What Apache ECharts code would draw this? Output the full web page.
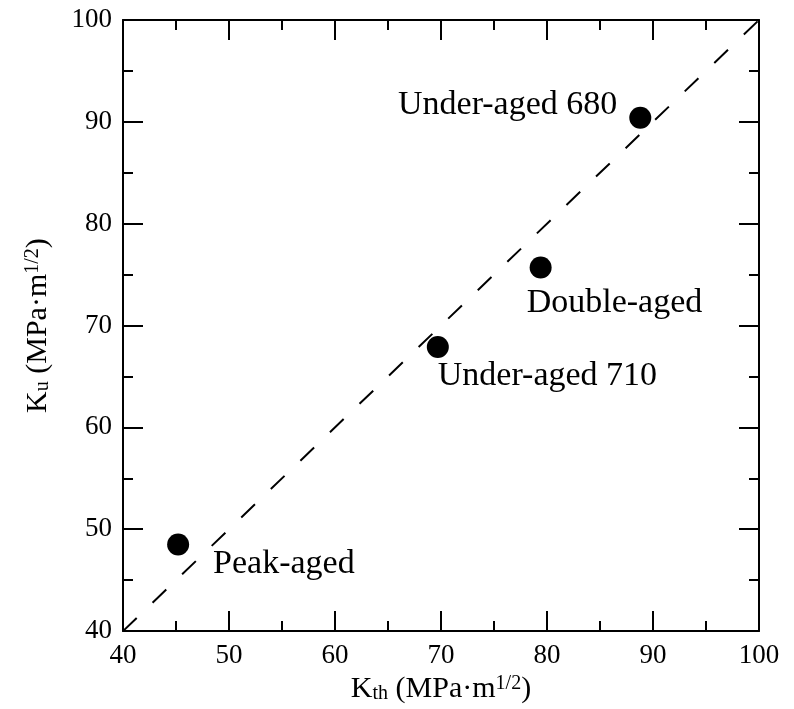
<!DOCTYPE html>
<html>
<head>
<meta charset="utf-8">
<script src="https://cdn.jsdelivr.net/npm/echarts@6/dist/echarts.min.js"></script>
<style>
html,body{margin:0;padding:0;background:#fff;}
#chart{width:794px;height:709px;}
</style>
</head>
<body>
<div id="chart"></div>
<script>
// ---- Data ----
var sampleNames = ['Peak-aged', 'Under-aged 710', 'Double-aged', 'Under-aged 680'];
var kth = [45.2, 69.7, 79.4, 88.8];
var ku = [48.5, 67.9, 75.7, 90.4];
var refLineX = [40, 100];
var refLineY = [40, 100];
var xTicks = [40, 50, 60, 70, 80, 90, 100];
var yTicks = [40, 50, 60, 70, 80, 90, 100];

// ---- Label placement (style only) ----
var labelPlacement = {
  'Peak-aged':      {align: 'left',  offset: [35, 20]},
  'Under-aged 710': {align: 'left',  offset: [0, 29]},
  'Double-aged':    {align: 'left',  offset: [-14, 36]},
  'Under-aged 680': {align: 'right', offset: [-23, -13]}
};

var FONT = '"Liberation Serif", "Times New Roman", serif';
var chart = echarts.init(document.getElementById('chart'));

function axisBase(pos, showLabels, ticks) {
  return {
    type: 'value',
    position: pos,
    min: ticks[0],
    max: ticks[ticks.length - 1],
    interval: ticks[1] - ticks[0],
    axisLine: {show: true, onZero: false, lineStyle: {color: '#000', width: 2}},
    axisTick: {show: true, inside: true, length: 20, lineStyle: {color: '#000', width: 2}},
    minorTick: {show: true, splitNumber: 2, length: 10, lineStyle: {color: '#000', width: 2}},
    splitLine: {show: false},
    minorSplitLine: {show: false},
    axisLabel: {
      show: showLabels,
      color: '#000',
      fontFamily: FONT,
      fontSize: 27,
      margin: 11
    }
  };
}

var richName = {
  b: {fontFamily: FONT, fontSize: 30, color: '#000'},
  sub: {fontFamily: FONT, fontSize: 20, color: '#000', verticalAlign: 'bottom', padding: [10, 0, 0, 0]},
  sup: {fontFamily: FONT, fontSize: 20, color: '#000', verticalAlign: 'top', padding: [0, 0, 10, 0]}
};

var xBottom = axisBase('bottom', true, xTicks);
xBottom.name = '{b|K}{sub|th}{b| (MPa·m}{sup|1/2}{b|)}';
xBottom.nameLocation = 'middle';
xBottom.nameGap = 35;
xBottom.nameTextStyle = {rich: richName};

var xTop = axisBase('top', false, xTicks);

var yLeft = axisBase('left', true, yTicks);
yLeft.name = '{b|K}{sub|u}{b| (MPa·m}{sup|1/2}{b|)}';
yLeft.nameLocation = 'middle';
yLeft.nameGap = 70;
yLeft.nameRotate = 90;
yLeft.nameTextStyle = {rich: richName};

var yRight = axisBase('right', false, yTicks);

var scatterData = sampleNames.map(function (n, i) {
  var p = labelPlacement[n];
  return {
    name: n,
    value: [kth[i], ku[i]],
    label: {
      show: true,
      position: 'inside',
      align: p.align,
      verticalAlign: 'middle',
      offset: p.offset,
      formatter: n,
      color: '#000',
      fontFamily: FONT,
      fontSize: 34
    }
  };
});

var lineData = refLineX.map(function (x, i) { return [x, refLineY[i]]; });

chart.setOption({
  backgroundColor: '#fff',
  animation: false,
  grid: {left: 123, right: 35, top: 20, bottom: 76, containLabel: false},
  xAxis: [xBottom, xTop],
  yAxis: [yLeft, yRight],
  series: [
    {
      type: 'line',
      xAxisIndex: 0,
      yAxisIndex: 0,
      data: lineData,
      symbol: 'none',
      silent: true,
      lineStyle: {color: '#000', width: 2, type: [19, 22]},
      z: 1
    },
    {
      type: 'scatter',
      xAxisIndex: 0,
      yAxisIndex: 0,
      data: scatterData,
      symbol: 'circle',
      symbolSize: 22,
      itemStyle: {color: '#000', opacity: 1},
      z: 2
    }
  ]
});
</script>
</body>
</html>
